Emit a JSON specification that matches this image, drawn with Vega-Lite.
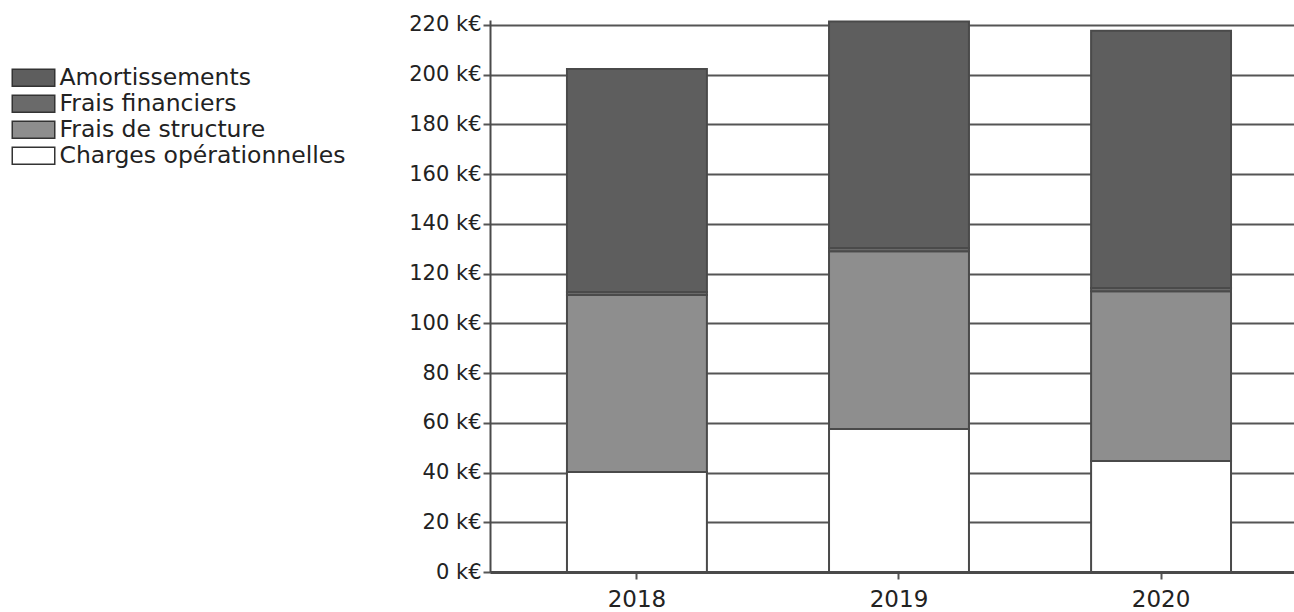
{
  "$schema": "https://vega.github.io/schema/vega-lite/v6.json",
  "autosize": "none",
  "width": 804,
  "height": 552,
  "padding": {"left": 490, "top": 20, "right": 0, "bottom": 40},
  "background": "white",
  "config": {
    "view": {"stroke": null},
    "font": "DejaVu Sans"
  },
  "data": {
    "values": [
      {"annee": "2018", "poste": "Charges opérationnelles", "k": 1, "valeur": 40.2},
      {"annee": "2018", "poste": "Frais de structure", "k": 2, "valeur": 71.2},
      {"annee": "2018", "poste": "Frais financiers", "k": 3, "valeur": 1.2},
      {"annee": "2018", "poste": "Amortissements", "k": 4, "valeur": 89.7},
      {"annee": "2019", "poste": "Charges opérationnelles", "k": 1, "valeur": 57.5},
      {"annee": "2019", "poste": "Frais de structure", "k": 2, "valeur": 71.5},
      {"annee": "2019", "poste": "Frais financiers", "k": 3, "valeur": 1.3},
      {"annee": "2019", "poste": "Amortissements", "k": 4, "valeur": 91.1},
      {"annee": "2020", "poste": "Charges opérationnelles", "k": 1, "valeur": 44.6},
      {"annee": "2020", "poste": "Frais de structure", "k": 2, "valeur": 68.3},
      {"annee": "2020", "poste": "Frais financiers", "k": 3, "valeur": 1.3},
      {"annee": "2020", "poste": "Amortissements", "k": 4, "valeur": 103.5}
    ]
  },
  "mark": {"type": "bar", "stroke": "#4a4a4a", "strokeWidth": 2},
  "encoding": {
    "x": {
      "field": "annee",
      "type": "ordinal",
      "scale": {"paddingInner": 0.466, "paddingOuter": 0.267, "align": 0.55},
      "axis": {
        "title": null,
        "labelAngle": 0,
        "labelFontSize": 23,
        "labelColor": "#222",
        "labelPadding": 9,
        "tickSize": 7,
        "tickColor": "#555",
        "tickWidth": 2,
        "domainColor": "#4a4a4a",
        "domainWidth": 3
      }
    },
    "y": {
      "field": "valeur",
      "type": "quantitative",
      "stack": "zero",
      "scale": {"domain": [0, 222], "nice": false},
      "axis": {
        "title": null,
        "values": [0, 20, 40, 60, 80, 100, 120, 140, 160, 180, 200, 220],
        "labelExpr": "datum.value + ' k€'",
        "labelFontSize": 21,
        "labelColor": "#222",
        "labelPadding": 2,
        "tickSize": 7,
        "tickColor": "#555",
        "tickWidth": 2,
        "domainColor": "#4a4a4a",
        "domainWidth": 2,
        "grid": true,
        "gridColor": "#555",
        "gridWidth": 2
      }
    },
    "order": {"field": "k", "type": "quantitative"},
    "color": {
      "field": "poste",
      "type": "nominal",
      "scale": {
        "domain": ["Amortissements", "Frais financiers", "Frais de structure", "Charges opérationnelles"],
        "range": ["#5e5e5e", "#6a6a6a", "#8e8e8e", "#ffffff"]
      },
      "legend": {
        "title": null,
        "orient": "none",
        "legendX": -481,
        "legendY": 46,
        "symbolType": "M-1,-1H4V1H-1Z",
        "symbolSize": 289,
        "symbolStrokeColor": "#333",
        "symbolStrokeWidth": 1.5,
        "labelFontSize": 23.5,
        "labelLimit": 400,
        "labelColor": "#222",
        "labelOffset": 27,
        "rowPadding": 1,
        "symbolOffset": 0
      }
    }
  }
}
